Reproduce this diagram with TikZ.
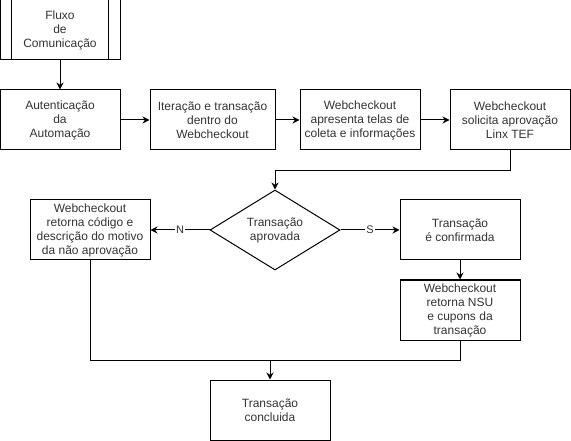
\documentclass[tikz,border=0pt]{standalone}
\usepackage{fontspec}
\setmainfont{Liberation Sans}
\usepackage{tikz}
\usetikzlibrary{arrows.meta,shapes.geometric}

\begin{document}
\begin{tikzpicture}[x=1pt, y=-1pt, line width=1pt]
  \tikzset{every node/.style={font=\fontsize{12}{14}\selectfont, text=black!80, align=center}}
  \tikzset{box/.style={draw, rectangle, minimum width=120pt, minimum height=60pt, inner sep=0pt}}
  \useasboundingbox (0,0) rectangle (571,441);
  \node[box] (fluxo) at (60, 30) {Fluxo\\de\\Comunicação};
  \node[box] (aut) at (60, 120) {Autenticação\\da\\Automação};
  \node[box, minimum width=125pt] (iter) at (212.5, 120) {Iteração e transação\\dentro do\\Webcheckout};
  \node[box] (apres) at (360, 120) {Webcheckout\\apresenta telas de\\coleta e informações};
  \node[box] (solic) at (510, 120) {Webcheckout\\solicita aprovação\\Linx TEF};
  \node[draw, diamond, aspect=1.625, minimum width=130pt, minimum height=80pt, inner sep=0pt] (dec) at (275, 230) {Transação\\aprovada};
  \node[box] (nao) at (90, 230) {Webcheckout\\retorna código e\\descrição do motivo\\da não aprovação};
  \node[box] (conf) at (460, 230) {Transação\\é confirmada};
  \node[box] (nsu) at (460, 310) {Webcheckout\\retorna NSU\\e cupons da\\ transação};
  \node[box] (concl) at (270, 410) {Transação\\concluida};
  \coordinate (junta) at (270, 360);

  % bordas internas do processo
  \draw ([xshift=12pt]fluxo.north west) -- ([xshift=12pt]fluxo.south west);
  \draw ([xshift=-12pt]fluxo.north east) -- ([xshift=-12pt]fluxo.south east);

  % ligacoes
  \tikzset{seta/.style={-{Stealth[length=7pt, width=7pt]}}};
  \tikzset{rotulo/.style={fill=white, inner sep=1pt, font=\fontsize{11}{13}\selectfont}};
  \path (fluxo) edge [seta] (aut);
  \path (aut) edge [seta] (iter);
  \path (iter) edge [seta] (apres);
  \path (apres) edge [seta] (solic);
  \draw [seta] (solic.south) -- ++(0, 20) -| (dec.north);
  \path (dec.west) edge [seta] node [rotulo] {N} (nao.east);
  \path (dec.east) edge [seta] node [rotulo] {S} (conf.west);
  \path (conf) edge [seta] (nsu);
  \draw (nao.south) |- (junta);
  \draw (nsu.south) |- (junta);
  \path (junta) edge [seta] (concl);
\end{tikzpicture}
\end{document}
